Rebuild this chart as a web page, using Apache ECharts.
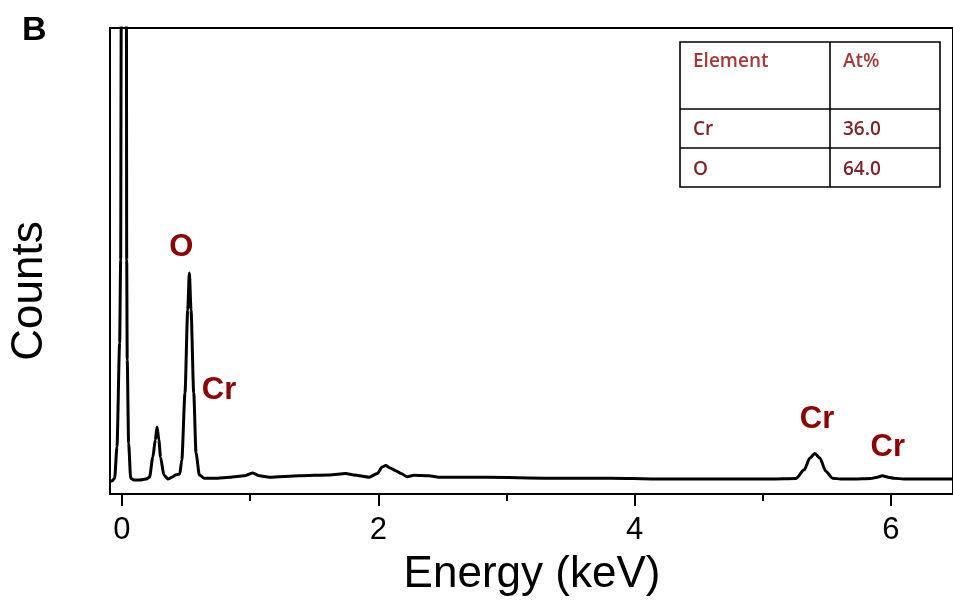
<!DOCTYPE html>
<html>
<head>
<meta charset="utf-8">
<script src="https://cdn.jsdelivr.net/npm/echarts@6/dist/echarts.min.js"></script>
<style>
html,body{margin:0;padding:0;background:#fff;}
#chart{width:953px;height:602px;}
</style>
</head>
<body>
<div id="chart"></div>
<script>
// ---- Spectrum data ----
const energyKeV = [
 -0.093,-0.078,-0.057,-0.039,-0.018,-0.010,-0.006,0.012,0.035,0.037,0.041,0.052,0.068,0.093,0.14,0.187,
 0.215,0.241,0.26,0.274,0.288,0.301,0.327,0.358,0.389,0.42,0.451,
 0.467,0.492,0.513,0.526,0.539,0.560,0.578,0.604,0.643,0.746,0.840,0.956,1.019,1.073,1.151,1.384,
 1.617,1.747,1.81,1.928,1.993,2.03,2.058,2.092,2.136,2.177,2.226,2.278,2.395,2.473,2.862,3.328,
 3.818,4.168,4.495,5.065,5.259,5.324,5.368,5.407,5.446,5.492,5.544,5.609,5.713,5.842,5.894,5.933,
 5.98,6.024,6.102,6.462,6.485
];
const counts = [
 28,28,34,101,324,502,1000,2600,1000,502,288,109,34,30,30,32,
 36,79,116,144,116,79,41,32,36,41,43,
 73,217,395,474,395,217,88,41,34,34,36,39,45,39,36,39,
 41,44,41,36,44,58,61,56,50,44,37,40,39,36,36,34,
 34,32,32,32,33,52,77,87,77,49,34,32,32,33,36,39,
 36,34,32,32,32
];

// ---- Peak annotations ----
const peakNames = ['O','Cr','Cr','Cr'];
const peakLabelKeV = [0.463,0.758,5.424,5.976];
const peakLabelCounts = [528,223,159,100];

// ---- Axis ticks ----
const majorTicks = [0,2,4,6];
const minorTicks = [1,3,5];
const xMin = -0.0933, xMax = 6.485;
const yMin = 0, yMax = 1000;

// ---- Composition table ----
const tableHeader = ['Element','At%'];
const tableElements = ['Cr','O'];
const tableAtPercent = ['36.0','64.0'];

const spectrum = energyKeV.map((e,i)=>[e,counts[i]]);
const peakData = peakNames.map((n,i)=>({name:n,value:[peakLabelKeV[i],peakLabelCounts[i]]}));

const FONT = "'Liberation Sans', Arial, sans-serif";
const TFONT = "'Open Sans', 'Noto Sans', sans-serif";

const tx=680, ty=42, tw=260, colX=830, rowY=[42,109,148,187];
const tableEls = [
  {type:'rect', shape:{x:tx,y:ty,width:tw,height:rowY[3]-ty}, style:{fill:'#fff',stroke:'#000',lineWidth:1.6}},
  {type:'line', shape:{x1:colX,y1:ty,x2:colX,y2:rowY[3]}, style:{stroke:'#000',lineWidth:1.6}},
  {type:'line', shape:{x1:tx,y1:rowY[1],x2:tx+tw,y2:rowY[1]}, style:{stroke:'#000',lineWidth:1.6}},
  {type:'line', shape:{x1:tx,y1:rowY[2],x2:tx+tw,y2:rowY[2]}, style:{stroke:'#000',lineWidth:1.6}},
  {type:'text', x:693, y:62, style:{text:tableHeader[0], fill:'#a23c3c', font:'600 19px '+TFONT, textVerticalAlign:'middle'}},
  {type:'text', x:843, y:62, style:{text:tableHeader[1], fill:'#a23c3c', font:'600 19px '+TFONT, textVerticalAlign:'middle'}}
];
tableElements.forEach((el,i)=>{
  const cy = [129.5,169.5][i];
  tableEls.push({type:'text', x:693, y:cy, style:{text:el, fill:'#7a262b', font:'600 19px '+TFONT, textVerticalAlign:'middle'}});
  tableEls.push({type:'text', x:843, y:cy, style:{text:tableAtPercent[i], fill:'#7a262b', font:'600 19px '+TFONT, textVerticalAlign:'middle'}});
});

const chart = echarts.init(document.getElementById('chart'), null, {renderer:'canvas'});
chart.setOption({
  animation:false,
  backgroundColor:'#fff',
  grid:{left:110,right:-3,top:28,bottom:108,show:true,borderColor:'#000',borderWidth:2,backgroundColor:'transparent'},
  xAxis:[{
    type:'value', min:xMin, max:xMax, position:'bottom',
    axisLine:{show:true,onZero:false,lineStyle:{color:'#000',width:2}},
    axisTick:{show:true,inside:false,length:12,customValues:majorTicks,lineStyle:{color:'#000',width:2}},
    axisLabel:{show:true,customValues:majorTicks,margin:21,fontSize:31,color:'#000',fontFamily:FONT},
    splitLine:{show:false}
  },{
    type:'value', min:xMin, max:xMax, position:'bottom',
    axisLine:{show:false,onZero:false},
    axisTick:{show:true,inside:false,length:7,customValues:minorTicks,lineStyle:{color:'#000',width:2}},
    axisLabel:{show:false,customValues:minorTicks},
    splitLine:{show:false}
  }],
  yAxis:{
    type:'value', min:yMin, max:yMax,
    axisLine:{show:true,onZero:false,lineStyle:{color:'#000',width:2}},
    axisTick:{show:false}, axisLabel:{show:false}, splitLine:{show:false}
  },
  series:[{
    type:'line', xAxisIndex:0, data:spectrum, showSymbol:false, symbol:'none',
    smooth:0.25, smoothMonotone:'x', clip:true,
    lineStyle:{color:'#000',width:3}
  },{
    type:'scatter', xAxisIndex:0, data:peakData, symbolSize:0,
    itemStyle:{opacity:1},
    label:{show:true,position:'inside',formatter:'{b}',fontSize:31,fontWeight:'bold',color:'#8b0000',opacity:1,fontFamily:FONT}
  }],
  graphic:[
    {type:'text', x:22, y:31, style:{text:'B', font:'bold 34px '+FONT, fill:'#000', textVerticalAlign:'middle'}},
    {type:'text', x:30, y:291, rotation:Math.PI/2, style:{text:'Counts', font:'44px '+FONT, fill:'#000', textAlign:'center', textVerticalAlign:'middle'}},
    {type:'text', x:532, y:575, style:{text:'Energy (keV)', font:'44px '+FONT, fill:'#000', textAlign:'center', textVerticalAlign:'middle'}},
    {type:'group', children:tableEls}
  ]
});
</script>
</body>
</html>
